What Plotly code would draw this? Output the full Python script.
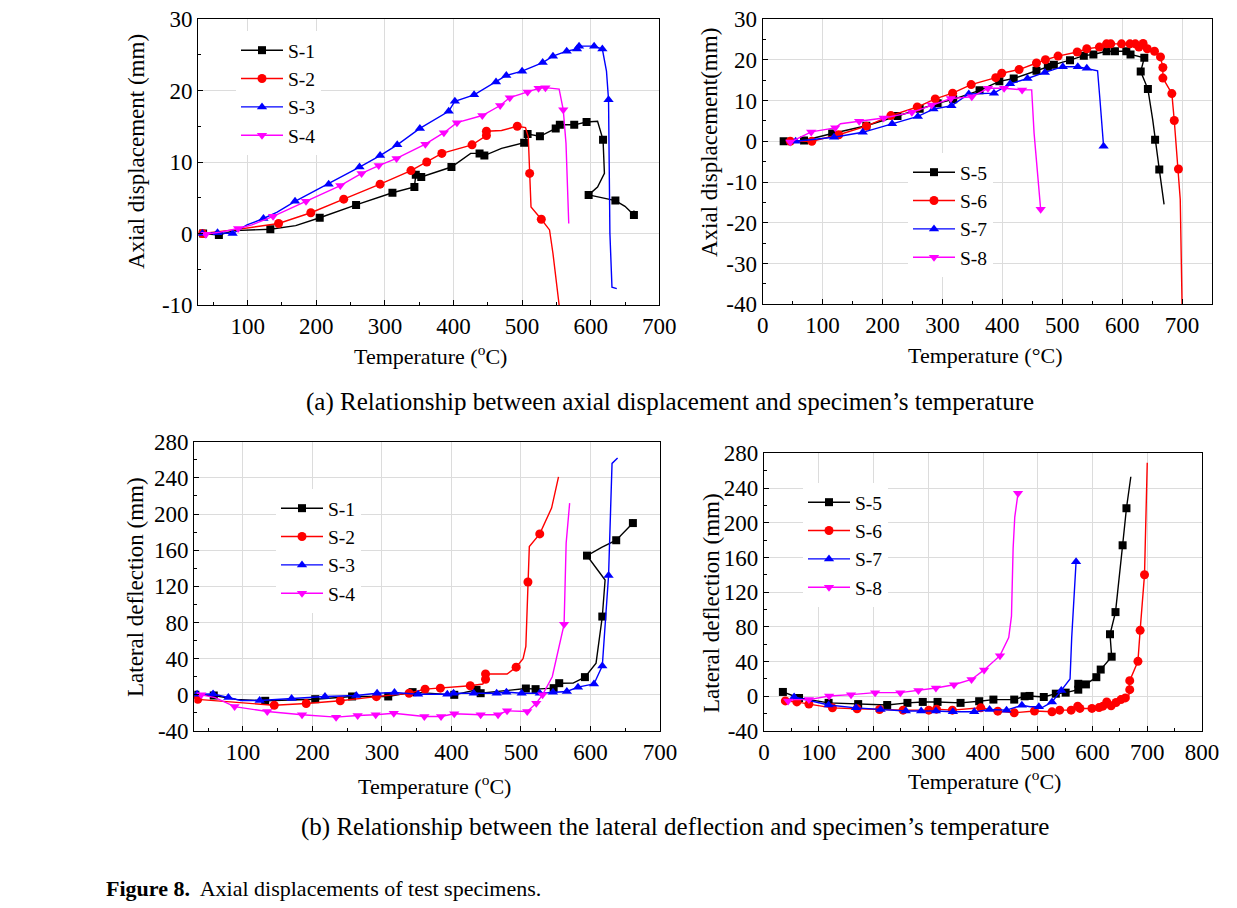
import plotly.graph_objects as go

W, H = 1237, 908
FONT = "Liberation Serif"

# ---------------- DATA ----------------
# (a) left panel: axial displacement, S-1..S-4 ; M = 1 where a symbol is drawn
A1_T = [35, 58, 80, 133, 170, 205, 258, 311, 343, 345, 353, 397, 425, 438, 445, 470, 503, 508, 526, 549, 555, 576, 594, 610, 618, 620, 610, 597, 636, 650, 663, 663]
A1_V = [0, -0.2, 0.4, 0.6, 1.1, 2.2, 4.0, 5.7, 6.5, 8.2, 7.9, 9.3, 11.2, 11.2, 10.9, 11.9, 12.7, 13.9, 13.6, 14.7, 15.2, 15.2, 15.6, 15.7, 13.1, 8.4, 6.5, 5.4, 4.6, 3.8, 2.6, 3.2]
A1_M = [1, 1, 0, 1, 0, 1, 1, 1, 1, 1, 1, 1, 0, 1, 1, 0, 1, 1, 1, 1, 1, 1, 1, 0, 1, 0, 0, 1, 1, 0, 1, 0]

A2_T = [34, 80, 145, 192, 240, 293, 338, 361, 383, 427, 448, 448, 470, 493, 505, 509, 511, 513, 528, 540, 545, 554]
A2_V = [0, 0.5, 1.4, 2.9, 4.8, 6.9, 8.8, 10.0, 11.2, 12.4, 13.7, 14.3, 14.4, 15.0, 14.8, 13.5, 8.4, 3.7, 2.0, 0.5, -2.8, -10]
A2_M = [1, 0, 1, 1, 1, 1, 1, 1, 1, 1, 1, 1, 0, 1, 0, 0, 1, 0, 1, 0, 0, 0]

A3_T = [34, 56, 78, 99, 123, 143, 169, 218, 230, 263, 293, 318, 351, 393, 402, 430, 462, 477, 500, 530, 545, 565, 580, 583, 605, 617, 623, 626, 628, 631, 638]
A3_V = [0, 0.1, 0, 1.2, 2.1, 3.0, 4.5, 6.9, 7.6, 9.3, 10.9, 12.4, 14.7, 17.1, 18.5, 19.4, 21.2, 22.1, 22.7, 23.9, 24.8, 25.5, 25.8, 26.2, 26.2, 25.8, 22.7, 18.7, 0, -7.5, -7.7]
A3_M = [1, 1, 1, 0, 1, 0, 1, 1, 0, 1, 1, 1, 1, 1, 1, 1, 1, 1, 1, 1, 1, 1, 1, 1, 1, 1, 0, 1, 0, 0, 0]

A4_T = [39, 60, 86, 106, 137, 185, 235, 266, 291, 317, 359, 386, 405, 442, 468, 482, 508, 524, 534, 554, 560, 564, 568]
A4_V = [-0.1, 0.2, 0.7, 1.2, 2.4, 4.5, 6.7, 8.4, 9.5, 10.5, 12.5, 14.1, 15.5, 16.5, 17.9, 19.0, 19.8, 20.3, 20.4, 20.2, 17.3, 12.6, 1.4]
A4_M = [1, 0, 1, 0, 1, 1, 1, 1, 1, 1, 1, 1, 1, 1, 1, 1, 1, 1, 1, 0, 1, 0, 0]

# (a) right panel: S-5..S-8
A5_T = [35, 69, 116, 173, 225, 262, 292, 318, 362, 395, 419, 457, 476, 486, 513, 536, 552, 574, 588, 607, 614, 637, 631, 637, 643, 651, 655, 662, 670]
A5_V = [0, 0.2, 1.9, 3.8, 6.2, 8.0, 9.3, 10.3, 12.5, 14.7, 15.4, 17.3, 18.3, 18.8, 19.9, 21.0, 21.3, 22.1, 22.1, 22.1, 21.3, 20.5, 17.1, 15.1, 12.8, 5.3, 0.4, -6.9, -15.5]
A5_M = [1, 1, 1, 1, 1, 1, 1, 1, 1, 1, 1, 1, 1, 1, 1, 1, 1, 1, 1, 1, 1, 1, 1, 0, 1, 0, 1, 1, 0]

A6_T = [46, 82, 127, 173, 214, 258, 288, 317, 348, 389, 399, 428, 457, 472, 493, 525, 541, 562, 574, 581, 599, 613, 622, 628, 635, 642, 654, 664, 668, 668, 683, 687, 691, 694, 697, 700]
A6_V = [0, 0, 1.6, 3.7, 6.3, 8.4, 10.4, 11.8, 13.9, 15.6, 16.7, 17.6, 19.2, 20.0, 20.9, 21.9, 22.7, 23.1, 23.9, 23.9, 23.9, 23.9, 23.9, 23.1, 24.0, 22.7, 22.1, 20.7, 18.1, 15.5, 11.7, 5.1, -2, -6.8, -14.3, -40]
A6_M = [1, 1, 1, 1, 1, 1, 1, 1, 1, 1, 1, 1, 1, 1, 1, 1, 1, 1, 1, 1, 1, 1, 1, 1, 1, 1, 1, 1, 1, 1, 1, 1, 0, 1, 0, 0]

A7_T = [55, 119, 167, 216, 259, 285, 315, 344, 386, 413, 442, 471, 501, 526, 541, 559, 563, 569]
A7_V = [0, 1.0, 2.2, 4.3, 6.1, 7.9, 8.7, 11.6, 11.8, 14.1, 15.4, 16.9, 18.3, 18.3, 17.9, 17.3, 10.2, -1.2]
A7_M = [1, 1, 1, 1, 1, 1, 1, 1, 1, 1, 1, 1, 1, 1, 1, 0, 0, 1]

A8_T = [46, 81, 121, 130, 161, 202, 249, 282, 314, 349, 376, 403, 433, 449, 453, 464]
A8_V = [-0.2, 2.3, 3.3, 4.3, 4.9, 5.7, 7.1, 8.9, 10.5, 10.9, 13.0, 13.0, 12.6, 12.6, 2.0, -16.7]
A8_M = [1, 1, 1, 0, 1, 1, 1, 1, 1, 1, 1, 1, 1, 0, 0, 1]

# (b) left panel: lateral deflection, S-1..S-4
B1_T = [31.5, 58, 90, 132, 204, 257, 309, 344, 404, 436, 442, 507, 521, 547, 555, 575, 592, 608, 617, 621, 595, 616, 637, 661, 660]
B1_V = [0, -0.7, -5, -6.6, -4.8, -1.8, -1.8, 3, 0, 5.5, 1.8, 7, 6.3, 7.4, 12.9, 13, 19.6, 35, 86.6, 127, 154, 163, 171, 190, 194]
B1_M = [1, 1, 0, 1, 1, 1, 1, 1, 1, 1, 1, 1, 1, 1, 1, 0, 1, 0, 1, 0, 1, 0, 1, 1, 0]

B2_T = [35, 100, 145, 191, 240, 292, 339, 362, 384, 427, 445, 449, 449, 480, 493, 503, 507, 510, 512, 527, 544, 554]
B2_V = [-5, -9, -11.5, -9.6, -6.6, -2, 1.8, 6.3, 7.4, 10, 12, 17.3, 23, 23, 30.6, 40, 53.5, 124.8, 164, 178, 206.6, 241]
B2_M = [1, 0, 1, 1, 1, 1, 1, 1, 1, 1, 0, 1, 1, 0, 1, 0, 0, 1, 0, 1, 0, 0]

B3_T = [34, 57, 79, 97, 124, 170, 218, 263, 293, 318, 352, 394, 403, 432, 465, 479, 501, 527, 546, 566, 582, 605, 617, 626, 631, 639]
B3_V = [0.7, 1, -3, -6.3, -6.3, -4, -1.8, -0.7, 1.8, 2.6, 0.7, 0.7, 1.8, 1.8, 1.8, 3, 1.8, 1.8, 3, 3.7, 8.5, 12, 32, 132, 256, 262]
B3_M = [1, 1, 1, 0, 1, 1, 1, 1, 1, 1, 1, 1, 1, 1, 1, 1, 1, 1, 1, 1, 1, 1, 1, 1, 0, 0]

B4_T = [40, 60, 88, 135, 185, 234, 265, 291, 317, 361, 385, 404, 442, 467, 480, 509, 522, 531, 545, 556, 562, 565, 570]
B4_V = [0, -3, -13, -18.5, -22, -24.7, -22.8, -22, -20.3, -24, -24, -21, -22, -22, -17.7, -18.5, -9.2, 0, 20, 57, 78, 168, 212]
B4_M = [1, 0, 1, 1, 1, 1, 1, 1, 1, 1, 1, 1, 1, 1, 1, 1, 1, 1, 0, 0, 1, 0, 0]

# (b) right panel: S-5..S-8
B5_T = [34.5, 64, 118, 172, 225, 262, 290, 317, 359, 393, 419, 457, 476, 485, 511, 533, 551, 574, 574, 588, 607, 615, 635, 632, 642, 655, 662, 670]
B5_V = [5, -2, -7.6, -9, -10, -7.6, -6.5, -6.5, -7.6, -5.7, -3.8, -3.8, 0, 0.4, -0.8, 3, 4.2, 7.6, 14.4, 13.7, 22, 30.8, 45.6, 71.5, 97, 174, 216.7, 253]
B5_M = [1, 1, 1, 1, 1, 1, 1, 1, 1, 1, 1, 1, 1, 1, 1, 1, 1, 1, 1, 1, 1, 1, 1, 1, 1, 1, 1, 0]

B6_T = [39, 60, 82, 125, 170, 211, 254, 301, 315, 344, 396, 427, 457, 494, 526, 540, 561, 573, 577, 599, 612, 619, 626, 634, 643, 652, 660, 666, 668, 667, 668, 683, 687, 695, 700]
B6_V = [-5.3, -6.5, -9, -13.3, -14.4, -15.2, -16, -16, -14.8, -16, -13.3, -17.1, -19, -17, -17.9, -16, -16, -11.4, -14, -14, -13, -11.4, -6.5, -11, -7.2, -3.8, -1.9, 0, 7.6, 13.7, 18, 40.3, 76, 140, 269]
B6_M = [1, 1, 1, 1, 1, 1, 1, 1, 1, 1, 1, 1, 1, 1, 1, 1, 1, 1, 1, 1, 1, 1, 1, 1, 1, 1, 1, 0, 1, 0, 1, 1, 1, 1, 0]

B7_T = [55, 118, 168, 213, 259, 287, 314, 345, 384, 412, 443, 471, 486, 502, 508, 521, 526, 543, 559, 562, 570]
B7_V = [-0.8, -10, -13.3, -15.2, -17, -17, -17, -17.9, -17.9, -15.2, -16, -10.3, -12, -12, -13, -8.4, -6.5, 6.8, 20, 67.5, 155]
B7_M = [1, 1, 1, 1, 1, 1, 1, 1, 1, 1, 1, 1, 0, 1, 0, 0, 1, 1, 0, 0, 1]

B8_T = [44, 56, 82, 119, 159, 203, 249, 282, 314, 347, 379, 402, 431, 447, 452, 455, 458, 464]
B8_V = [-5.3, -3.8, -3.8, 0.4, 1.9, 4.2, 4.2, 6.8, 9.5, 13.3, 19.4, 30.4, 46.8, 67.7, 92.4, 170, 206.5, 234]
B8_M = [1, 0, 1, 1, 1, 1, 1, 1, 1, 1, 1, 1, 1, 0, 0, 0, 0, 1]

NAMES_LEFT = ["S-1", "S-2", "S-3", "S-4"]
NAMES_RIGHT = ["S-5", "S-6", "S-7", "S-8"]

A_TICKS_LEFT = [-10, 0, 10, 20, 30]
A_TICKS_RIGHT = [-40, -30, -20, -10, 0, 10, 20, 30]
B_TICKS = [-40, 0, 40, 80, 120, 160, 200, 240, 280]
X_TICKS_700 = [0, 100, 200, 300, 400, 500, 600, 700]
X_TICKS_800 = [0, 100, 200, 300, 400, 500, 600, 700, 800]

# ---------------- STYLE ----------------
COLORS = ["#000000", "#ff0000", "#0000ff", "#ff00ff"]
SYMBOLS = ["square", "circle", "triangle-up", "triangle-down"]
SIZES = [8, 9, 9, 9]


def px(x):
    return x / W


def py(y):
    return 1 - y / H


fig = go.Figure()

panels = [
    ("x", "y", "legend", [(A1_T, A1_V, A1_M), (A2_T, A2_V, A2_M), (A3_T, A3_V, A3_M), (A4_T, A4_V, A4_M)], NAMES_LEFT),
    ("x2", "y2", "legend2", [(A5_T, A5_V, A5_M), (A6_T, A6_V, A6_M), (A7_T, A7_V, A7_M), (A8_T, A8_V, A8_M)], NAMES_RIGHT),
    ("x3", "y3", "legend3", [(B1_T, B1_V, B1_M), (B2_T, B2_V, B2_M), (B3_T, B3_V, B3_M), (B4_T, B4_V, B4_M)], NAMES_LEFT),
    ("x4", "y4", "legend4", [(B5_T, B5_V, B5_M), (B6_T, B6_V, B6_M), (B7_T, B7_V, B7_M), (B8_T, B8_V, B8_M)], NAMES_RIGHT),
]

for xa, ya, lg, series, names in panels:
    for i, (t, v, m) in enumerate(series):
        mcol = [COLORS[i] if f else "rgba(0,0,0,0)" for f in m]
        fig.add_trace(go.Scatter(
            x=t, y=v, name=names[i], mode="lines+markers",
            xaxis=xa, yaxis=ya, legend=lg,
            line=dict(color=COLORS[i], width=1.4),
            marker=dict(symbol=SYMBOLS[i], size=SIZES[i], color=mcol, line=dict(width=0)),
        ))


def axis(domain, rng, ticks, anchor, minor=50):
    return dict(domain=domain, range=rng, anchor=anchor, automargin=False,
                tickmode="array", tickvals=ticks,
                ticktext=[str(t) for t in ticks], showline=True, linecolor="black", linewidth=1.2,
                mirror=True, ticks="inside", ticklen=5, tickcolor="black",
                minor=dict(ticks="inside", ticklen=3, dtick=minor, tick0=0, tickcolor="black", showgrid=False),
                showgrid=True, gridcolor="#dcdcdc", gridwidth=1, zeroline=False,
                tickfont=dict(family=FONT, size=23, color="black"))


fig.update_layout(
    width=W, height=H, margin=dict(l=0, r=0, t=0, b=0, autoexpand=False),
    paper_bgcolor="white", plot_bgcolor="white",
    font=dict(family=FONT, size=20, color="black"),
    xaxis=axis([px(198.3), px(659.3)], [28, 700], X_TICKS_700[1:], "y"),
    yaxis=axis([py(305), py(19)], [-10, 30], A_TICKS_LEFT, "x", 5),
    xaxis2=axis([px(762.7), px(1212)], [0, 750], X_TICKS_700, "y2"),
    yaxis2=axis([py(304.3), py(19)], [-40, 30], A_TICKS_RIGHT, "x2", 5),
    xaxis3=axis([px(194.3), px(660)], [30, 700], X_TICKS_700[1:], "y3"),
    yaxis3=axis([py(731), py(441.7)], [-40, 280], B_TICKS, "x3", 20),
    xaxis4=axis([px(764), px(1202)], [0, 800], X_TICKS_800, "y4"),
    yaxis4=axis([py(731), py(453.3)], [-40, 280], B_TICKS, "x4", 20),
)

legend_pos = {"legend": (236, 31), "legend2": (908, 153), "legend3": (276, 489), "legend4": (803, 483)}
for name, (lx, ly) in legend_pos.items():
    fig.update_layout(**{name: dict(x=px(lx), y=py(ly), xanchor="left", yanchor="top",
                                    bgcolor="white", borderwidth=0, itemwidth=42,
                                    font=dict(family=FONT, size=19.5, color="black"),
                                    tracegroupgap=0)})

ann = []


def text(x, y, s, size=23, angle=0, xanchor="center"):
    ann.append(dict(x=px(x), y=py(y), xref="paper", yref="paper", text=s, showarrow=False,
                    textangle=angle, xanchor=xanchor, yanchor="middle",
                    font=dict(family=FONT, size=size, color="black")))


text(137, 152, "Axial displacement (mm)", angle=-90)
text(710, 143, "Axial displacement(mm)", angle=-90)
text(135, 587, "Lateral deflection (mm)", angle=-90)
text(711, 603, "Lateral deflection (mm)", angle=-90)
text(430, 355, "Temperature (<sup>o</sup>C)", size=22)
text(985, 356, "Temperature (°C)", size=22)
text(434, 785, "Temperature (<sup>o</sup>C)", size=22)
text(984, 780, "Temperature (<sup>o</sup>C)", size=22)
text(670, 402, "(a) Relationship between axial displacement and specimen\u2019s temperature", size=25)
text(675, 827, "(b) Relationship between the lateral deflection and specimen\u2019s temperature", size=25)
text(104, 888, "<b>Figure 8.</b>  Axial displacements of test specimens.", size=22, xanchor="left")

fig.update_layout(annotations=ann)
fig.write_html("out.html", config={"displayModeBar": False},
               post_script="document.body.style.margin='0';")
